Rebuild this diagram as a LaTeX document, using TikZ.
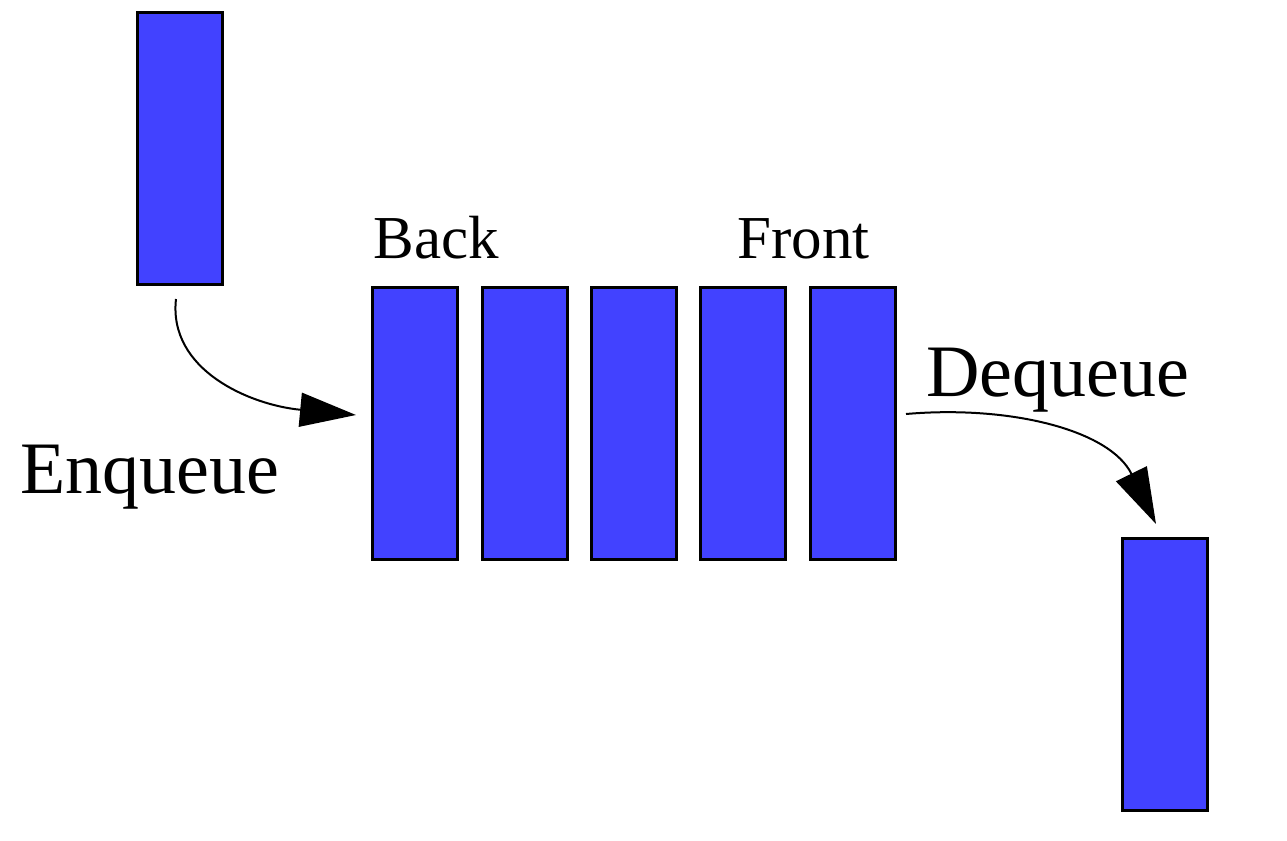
\documentclass[tikz,border=0pt]{standalone}
\usepackage{fontspec}
\setmainfont{Liberation Serif}
\usetikzlibrary{arrows.meta}
\definecolor{qblue}{HTML}{4242FF}
\begin{document}
\begin{tikzpicture}[x=0.5pt,y=-0.5pt,
  item/.style={draw=black,line width=1.5pt,fill=qblue,minimum width=42.5pt,minimum height=136pt,inner sep=0pt,outer sep=0pt},
  arr/.style={line width=1pt,-{Triangle[length=28pt,width=17pt]}},
  small/.style={font=\fontsize{30.5}{34}\selectfont,inner sep=0pt,anchor=base west},
  big/.style={font=\fontsize{37}{42}\selectfont,inner sep=0pt,anchor=base west}]
\useasboundingbox (0,0) rectangle (1287,841);
\node[item] (top) at (180,148) {};
\node[item] (q1) at (414.5,423) {};
\node[item] (q2) at (524.5,423) {};
\node[item] (q3) at (633.5,423) {};
\node[item] (q4) at (742.5,423) {};
\node[item] (q5) at (852.5,423) {};
\node[item] (bot) at (1164.5,674) {};
\node[small] (back) at (373,258) {Back};
\node[small] (front) at (737,258) {Front};
\node[big] (enq) at (20,493) {Enqueue};
\node[big] (deq) at (926,396) {Dequeue};
\coordinate (e1) at (176,299);
\coordinate (e2) at (356,415);
\coordinate (d1) at (906,414);
\coordinate (d2) at (1156,524);
\draw[arr] (e1) .. controls (168,370) and (250,405) .. (e2);
\draw[arr] (d1) .. controls (1010,405) and (1110,430) .. (d2);
\end{tikzpicture}
\end{document}
